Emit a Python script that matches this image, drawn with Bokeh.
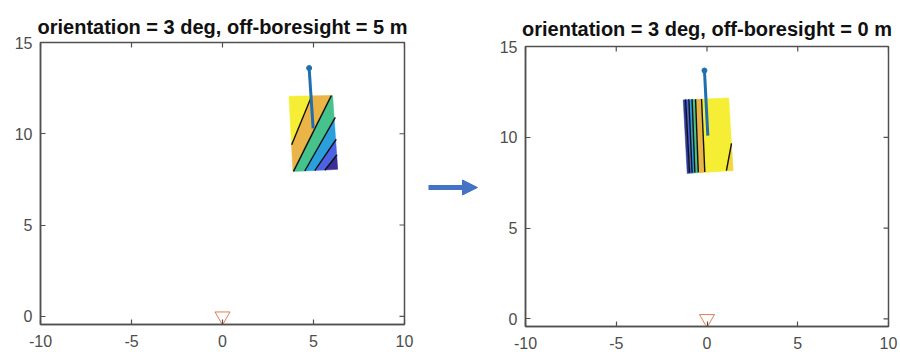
import math
from bokeh.plotting import figure
from bokeh.layouts import row
from bokeh.models import (Range1d, FixedTicker, Arrow, NormalHead, Title,
                          PrintfTickFormatter)
from bokeh.embed import file_html
from bokeh.resources import INLINE

# ---------------- data ----------------
titles = ["orientation = 3 deg, off-boresight = 5 m",
          "orientation = 3 deg, off-boresight = 0 m"]
x_ticks = [-10, -5, 0, 5, 10]
y_ticks = [0, 5, 10, 15]

# target patch corners (TL, TR, BR, BL)
left_quad_x = [3.65, 6.05, 6.33, 3.87]
left_quad_y = [12.05, 12.10, 8.05, 7.93]
right_quad_x = [-1.31, 1.20, 1.44, -1.09]
right_quad_y = [12.06, 12.17, 8.16, 8.01]

# contour lines (bottom end -> top end)
left_cx0 = [3.80, 3.90, 4.52, 5.07, 5.62]
left_cy0 = [9.40, 7.94, 7.96, 7.98, 8.00]
left_cx1 = [4.90, 5.98, 6.20, 6.25, 6.29]
left_cy1 = [12.07, 12.09, 10.90, 9.70, 8.85]

right_cx0 = [-0.96, -0.82, -0.67, -0.48, -0.12, 1.07]
right_cy0 = [8.05, 8.05, 8.06, 8.07, 8.09, 8.16]
right_cx1 = [-1.18, -1.00, -0.82, -0.63, -0.30, 1.35]
right_cy1 = [12.08, 12.09, 12.09, 12.10, 12.11, 9.66]

parula6 = ["#F5EE34", "#EBB447", "#46C28C", "#2A9FDC", "#4C63E4", "#3A2D96"]
left_band_colors = parula6                       # upper-left -> lower-right
right_band_colors = ["#2E3A98"] + parula6[::-1][1:] + ["#F2D63A"]  # left -> right

# pointer (heading) line
left_ptr_x = [4.76, 4.98]
left_ptr_y = [13.60, 10.30]
right_ptr_x = [-0.14, 0.045]
right_ptr_y = [13.68, 10.09]

# radar position
radar_x = [0.0]
radar_y = [0.0]


def clip(poly, p, q, keep_left):
    def s(pt):
        return (q[0] - p[0]) * (pt[1] - p[1]) - (q[1] - p[1]) * (pt[0] - p[0])
    out = []
    n = len(poly)
    for i in range(n):
        a = poly[i]
        b = poly[(i + 1) % n]
        sa, sb = s(a), s(b)
        ina = sa >= 0 if keep_left else sa <= 0
        inb = sb >= 0 if keep_left else sb <= 0
        if ina:
            out.append(a)
        if ina != inb:
            t = sa / (sa - sb)
            out.append((a[0] + t * (b[0] - a[0]), a[1] + t * (b[1] - a[1])))
    return out


def bands(qx, qy, x0, y0, x1, y1):
    quad = list(zip(qx, qy))
    lines = [((x0[i], y0[i]), (x1[i], y1[i])) for i in range(len(x0))]
    res = []
    for k in range(len(lines) + 1):
        poly = quad
        for j in range(k):
            poly = clip(poly, lines[j][0], lines[j][1], False)
        if k < len(lines):
            poly = clip(poly, lines[k][0], lines[k][1], True)
        res.append(poly)
    return res


AX_COL = "#505050"
FONT = "Liberation Sans"


def make_panel(title, width, mb_left, mb_right, mb_top, mb_bottom, ybot, standoff,
               qx, qy, cx0, cy0, cx1, cy1, colors, px, py):
    xr = Range1d(-10, 10)
    yr = Range1d(ybot, 15)
    p = figure(width=width, height=352, x_range=xr, y_range=yr,
               output_backend="svg", toolbar_location=None,
               min_border_left=mb_left, min_border_right=mb_right,
               min_border_top=mb_top, min_border_bottom=mb_bottom,
               frame_align=False)
    p.title = Title(text=title, text_font=FONT, text_font_size="20px",
                    text_font_style="bold", text_color="#111111",
                    align="center", standoff=standoff)
    p.grid.visible = False
    p.outline_line_color = AX_COL
    p.outline_line_width = 1.5
    p.background_fill_color = "white"
    p.border_fill_color = "white"

    p.xaxis.ticker = FixedTicker(ticks=x_ticks)
    p.yaxis.ticker = FixedTicker(ticks=y_ticks)
    for ax in p.axis:
        ax.formatter = PrintfTickFormatter(format="%d")
        ax.axis_line_color = AX_COL
        ax.axis_line_width = 1.5
        ax.major_tick_line_color = AX_COL
        ax.major_tick_line_width = 1.2
        ax.major_tick_in = 5
        ax.major_tick_out = 0
        ax.minor_tick_line_color = None
        ax.major_label_text_font = FONT
        ax.major_label_text_font_size = "16px"
        ax.major_label_text_color = "#4d4d4d"
    p.xaxis.major_label_standoff = 10
    p.yaxis.major_label_standoff = 8

    # mirrored box ticks on the top and right edges (half of each dash is clipped)
    p.scatter(x_ticks, [yr.end] * len(x_ticks), marker="dash", size=10,
              angle=math.pi / 2, line_color=AX_COL, line_width=1.2)
    p.scatter([xr.end] * len(y_ticks), y_ticks, marker="dash", size=10,
              line_color=AX_COL, line_width=1.2)

    polys = bands(qx, qy, cx0, cy0, cx1, cy1)
    xs = [[v[0] for v in poly] for poly in polys]
    ys = [[v[1] for v in poly] for poly in polys]
    p.patches(xs, ys, fill_color=colors[:len(polys)], line_color=colors[:len(polys)],
              line_width=0.5)
    p.segment(cx0, cy0, cx1, cy1, line_color="#111111", line_width=1.4)

    p.line(px, py, line_color="#1F6FB0", line_width=3)
    p.scatter(px[:1], py[:1], marker="circle", size=5, fill_color="#1F6FB0",
              line_color="#1F6FB0")

    p.scatter(radar_x, radar_y, marker="inverted_triangle", size=15,
              fill_color=None, line_color="#D95319", line_alpha=0.75, line_width=1)
    return p


left = make_panel(titles[0], 420, 40, 16, 42, 28, -0.45, 9,
                  left_quad_x, left_quad_y, left_cx0, left_cy0, left_cx1, left_cy1,
                  left_band_colors, left_ptr_x, left_ptr_y)
right = make_panel(titles[1], 405, 30, 12, 46, 26, -0.42, 14,
                   right_quad_x, right_quad_y, right_cx0, right_cy0, right_cx1, right_cy1,
                   right_band_colors, right_ptr_x, right_ptr_y)

mid = figure(width=75, height=352, x_range=Range1d(0, 75), y_range=Range1d(0, 352),
             output_backend="svg", toolbar_location=None, x_axis_location=None,
             y_axis_location=None, min_border=0, frame_align=False)
mid.grid.visible = False
mid.outline_line_color = None
mid.add_layout(Arrow(x_start=8, y_start=165, x_end=57, y_end=165,
                     line_color="#4472C4", line_width=5,
                     end=NormalHead(size=15, fill_color="#4472C4",
                                    line_color="#4472C4", line_width=1)))

layout = row(left, mid, right)
open("out.html", "w").write(file_html(layout, INLINE))
